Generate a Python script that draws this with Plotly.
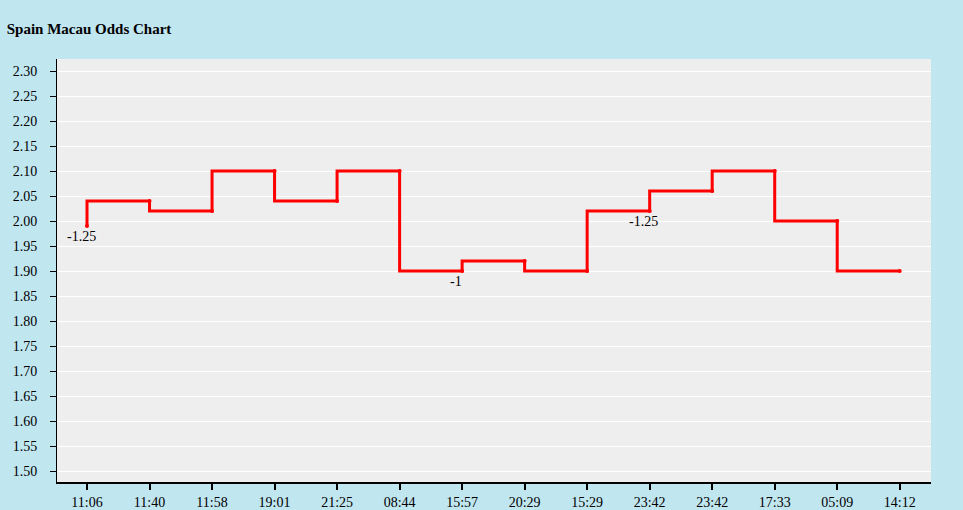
import plotly.graph_objects as go

# ── Data ────────────────────────────────────────────────────────────────────
times = ["11:06", "11:40", "11:58", "19:01", "21:25", "08:44", "15:57",
         "20:29", "15:29", "23:42", "23:42", "17:33", "05:09", "14:12"]
odds = [1.99, 2.04, 2.02, 2.10, 2.04, 2.10, 1.90,
        1.92, 1.90, 2.02, 2.06, 2.10, 2.00, 1.90]
handicap_idx = [0, 6, 9]
handicap_txt = ["-1.25", "-1", "-1.25"]
y_ticks = [1.50, 1.55, 1.60, 1.65, 1.70, 1.75, 1.80, 1.85, 1.90,
           1.95, 2.00, 2.05, 2.10, 2.15, 2.20, 2.25, 2.30]

_PAPER = "#C0E6F0"
_PLOT = "#EEEEEE"
_FONT = "Liberation Serif, Times New Roman, serif"

xs = list(range(len(times)))

fig = go.Figure()
fig.add_trace(
    go.Scatter(
        x=xs,
        y=odds,
        mode="lines+markers",
        line=dict(color="#FF0000", width=3, shape="vh"),
        marker=dict(color="#FF0000", size=4),
        hoverinfo="y",
        showlegend=False,
    )
)

for i, txt in zip(handicap_idx, handicap_txt):
    fig.add_annotation(
        x=xs[i], y=odds[i], text=txt, showarrow=False,
        yanchor="top", yshift=-1, xshift=-6,
        font=dict(family=_FONT, size=14, color="#000000"),
    )

fig.update_layout(
    width=963,
    height=510,
    paper_bgcolor=_PAPER,
    plot_bgcolor=_PLOT,
    font=dict(family=_FONT, size=14, color="#000000"),
    title=dict(
        text="<b>Spain Macau Odds Chart</b>",
        x=0.007, xanchor="left", y=0.943, yanchor="middle",
        font=dict(family=_FONT, size=15, color="#000000"),
    ),
    margin=dict(l=57, r=32, t=59, b=28),
)
fig.update_xaxes(
    range=[-0.48, 13.5],
    tickvals=xs,
    ticktext=times,
    automargin=False,
    showgrid=False,
    zeroline=False,
    showline=True,
    linecolor="#000000",
    linewidth=2,
    ticks="outside",
    ticklen=6,
    tickwidth=2,
    tickcolor="#000000",
)
fig.update_yaxes(
    range=[1.478, 2.324],
    tickvals=y_ticks,
    tickformat=".2f",
    automargin=False,
    gridcolor="#FFFFFF",
    gridwidth=1,
    zeroline=False,
    showline=True,
    linecolor="#000000",
    linewidth=1,
    ticks="outside",
    ticklen=6,
    tickcolor="#000000",
    ticklabelstandoff=10,
)

fig.write_html(
    "out.html",
    config={"displayModeBar": False},
    post_script="document.body.style.margin='0';",
)
